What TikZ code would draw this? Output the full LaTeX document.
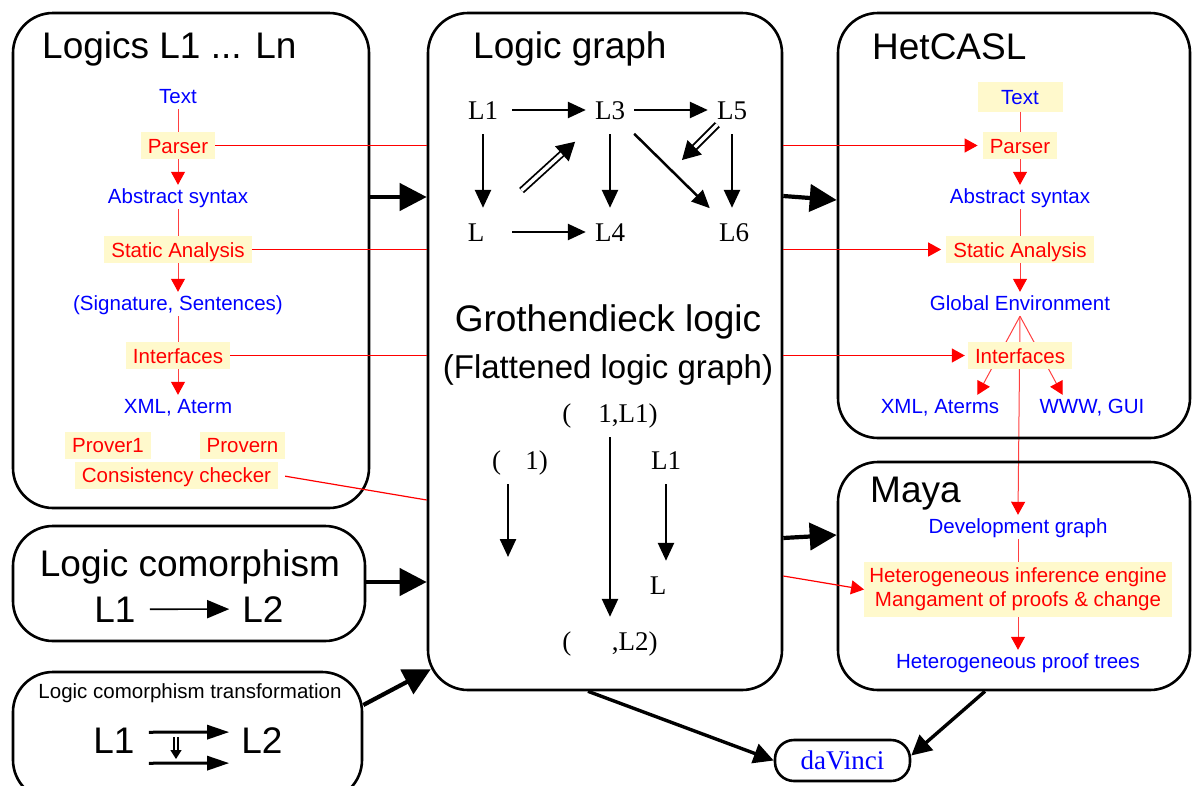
\documentclass[tikz,border=0pt]{standalone}
\usepackage{fontspec}
\setmainfont{Liberation Sans}
\newfontfamily\serifrm{Liberation Serif}
\usetikzlibrary{arrows.meta,positioning,calc,backgrounds}

\definecolor{hlyellow}{RGB}{255,249,204}

\begin{document}
\begin{tikzpicture}[
      x=1pt,y=-1pt,on grid,
      panel/.style = {draw,line width=2.6pt,rounded corners=40pt,inner sep=0pt},
      title/.style = {font=\fontsize{37}{42}\selectfont,inner sep=0pt,anchor=base west},
      item/.style = {font=\fontsize{20.5}{24}\selectfont,text=blue,text height=15pt,text depth=3pt,inner sep=3pt},
      task/.style = {font=\fontsize{20.5}{24}\selectfont,text=red,fill=hlyellow,text height=16pt,text depth=1pt,inner xsep=7pt,inner ysep=5pt},
      lnode/.style = {font=\serifrm\fontsize{27}{30}\selectfont,text height=18pt,text depth=0pt,inner xsep=9pt,inner ysep=15pt,anchor=base},
      bigarrow/.style = {-{Triangle[length=27pt,width=27pt]},line width=4.2pt},
      midarrow/.style = {-{Triangle[length=20pt,width=20pt]},line width=3.4pt},
      garrow/.style = {-{Triangle[length=18pt,width=16pt]},line width=2.5pt},
      dblarrow/.style = {-{Triangle[length=18pt,width=20pt]},double,double distance=3.5pt,line width=1.8pt},
      tarrow/.style = {-{Triangle[length=22pt,width=14pt]},line width=3pt},
      flow/.style = {red!75,line width=1pt},
      flowarrow/.style = {flow,-{Triangle[length=13pt,width=14pt,color=red]}},
      redlink/.style = {color=red,line width=1.2pt},
      redlinkarrow/.style = {redlink,-{Triangle[length=13pt,width=14pt]}}
    ]
  \useasboundingbox (0,0) rectangle (1192,785);

  % the six panels and the viewer
  \node (logics)[panel,minimum width=356pt,minimum height=495pt] at (191,260.5) {};
  \node (lgraph)[panel,minimum width=354pt,minimum height=677pt] at (605,351.5) {};
  \node (hetcasl)[panel,minimum width=352pt,minimum height=425pt] at (1014,225.5) {};
  \node (maya)[panel,minimum width=352pt,minimum height=228pt] at (1014,576) {};
  \node (comorph)[panel,minimum width=352pt,minimum height=115pt] at (189,583.5) {};
  \node (trans)[panel,minimum width=349pt,minimum height=128pt] at (187.5,736) {};
  \node (davinci)[panel,rounded corners=19pt,minimum width=135pt,minimum height=41pt,
    font=\serifrm\fontsize{27}{30}\selectfont,text=blue] at (842.5,760.5) {daVinci};

  \node (logicstitle)[title] at (42,58) {Logics L1 ... Ln};
  \node (graphtitle)[title] at (473,58) {Logic graph};
  \node (hettitle)[title] at (872,59) {HetCASL};
  \node (mayatitle)[title] at (870,502) {Maya};
  \node (groth)[title,anchor=base] at (608,331) {Grothendieck logic};
  \node (flat)[title,anchor=base,font=\fontsize{33}{38}\selectfont] at (608,378) {(Flattened logic graph)};

  % logics column
  \node (ltext)[item] at (178,97) {Text};
  \node (lparser)[task,below=48.5pt of ltext] {Parser};
  \node (labs)[item,below=51.5pt of lparser] {Abstract syntax};
  \node (lstatic)[task,below=52.5pt of labs] {Static Analysis};
  \node (lsig)[item,below=54.5pt of lstatic] {(Signature, Sentences)};
  \node (linter)[task,below=51.5pt of lsig] {Interfaces};
  \node (lxml)[item,below=51.5pt of linter] {XML, Aterm};
  \node (prover1)[task] at (108,445) {Prover1};
  \node (provern)[task] at (242.5,445) {Provern};
  \node (consist)[task] at (176.5,475) {Consistency checker};

  \draw[flow] (ltext) -- (lparser);
  \draw[flowarrow] (lparser) -- (labs);
  \draw[flow] (labs) -- (lstatic);
  \draw[flowarrow] (lstatic) -- (lsig);
  \draw[flow] (lsig) -- (linter);
  \draw[flowarrow] (linter) -- (lxml);

  % HetCASL column
  \node (htext)[task,text=blue,minimum width=85pt,minimum height=30pt] at (1020,96.5) {Text};
  \node (hparser)[task,below=49pt of htext] {Parser};
  \node (habs)[item,below=51.5pt of hparser] {Abstract syntax};
  \node (hstatic)[task,below=52.5pt of habs] {Static Analysis};
  \node (hglobal)[item,below=54.5pt of hstatic] {Global Environment};
  \node (hxml)[item] at (940,407) {XML, Aterms};
  \node (hwww)[item] at (1092,407) {WWW, GUI};

  % Maya column
  \node (devg)[item] at (1018,527) {Development graph};
  \node (hengine)[font=\fontsize{20.5}{24}\selectfont,text=red,fill=hlyellow,align=center,
    inner xsep=5pt,inner ysep=6pt,below=62.5pt of devg]
    {Heterogeneous inference engine\\Mangament of proofs \& change};
  \node (proof)[item,below=72.5pt of hengine] {Heterogeneous proof trees};

  \begin{pgfonlayer}{background}
    \draw[flowarrow] (hglobal.south) -- ($(hxml.north)!0.6!(hxml.north east)$);
    \draw[flowarrow] (hglobal.south) -- ($(hwww.north)!0.53!(hwww.north west)$);
    \draw[flowarrow] (hglobal.south) -- (devg.north);
  \end{pgfonlayer}
  \node (hinter)[task,below=51.5pt of hglobal] {Interfaces};

  \draw[flow] (htext) -- (hparser);
  \draw[flowarrow] (hparser) -- (habs);
  \draw[flow] (habs) -- (hstatic);
  \draw[flowarrow] (hstatic) -- (hglobal);
  \draw[flow] (devg) -- (hengine);
  \draw[flowarrow] (hengine) -- (proof);

  % links through the logic graph
  \draw[redlink] (lparser.east) -- (lparser -| lgraph.west);
  \draw[redlink] (lstatic.east) -- (lstatic -| lgraph.west);
  \draw[redlink] (linter.east) -- (linter -| lgraph.west);
  \draw[redlink,shorten <=7pt] (consist.east) -- (lgraph.west |- 0,500);
  \draw[redlinkarrow,shorten >=5pt] (hparser -| lgraph.east) -- (hparser.west);
  \draw[redlinkarrow,shorten >=5pt] (hstatic -| lgraph.east) -- (hstatic.west);
  \draw[redlinkarrow,shorten >=3pt] (hinter -| lgraph.east) -- (hinter.west);
  \draw[redlinkarrow] (lgraph.east |- 0,576) -- (hengine.west);

  % logic graph
  \node (l1)[lnode] at (483,119) {L1};
  \node (l3)[lnode] at (610,119) {L3};
  \node (l5)[lnode] at (732,119) {L5};
  \node (l)[lnode] at (476,241) {L};
  \node (l4)[lnode] at (610,241) {L4};
  \node (l6)[lnode] at (734,241) {L6};
  \draw[garrow,shorten <=5pt] (l1) -- (l3);
  \draw[garrow] (l3) -- (l5);
  \draw[garrow] (l1) -- (l1 |- l.north);
  \draw[garrow,shorten <=5pt] (l1.east |- l) -- (l4);
  \draw[garrow] (l3) -- (l4);
  \draw[garrow] (l3) -- (l6);
  \draw[garrow] (l5) -- (l5 |- l6.north);
  \draw[dblarrow] ($(l)!0.34!(l3)$) -- ($(l)!0.74!(l3)$);
  \draw[dblarrow] ($(l5)!0.12!(l4)$) -- ($(l5)!0.41!(l4)$);

  % flattened graph
  \node (gs1)[lnode] at (610,422) {(\hspace{1em}1,L1)};
  \node (sig1)[lnode] at (520,469) {(\hspace{0.9em}1)};
  \node (rl1)[lnode] at (666,469) {L1};
  \node (rl)[lnode] at (658,594) {L};
  \node (gs2)[lnode] at (610,650) {(\hspace{1.5em},L2)};
  \coordinate (sigend) at (508,557);
  \draw[garrow] ([xshift=-12pt]sig1.south) -- (sigend);
  \draw[garrow] (gs1) -- (gs2);
  \draw[garrow] (rl1) -- (rl1 |- rl.north);

  % comorphism panels
  \node (cotitle)[title,anchor=base] at (190,576) {Logic comorphism};
  \node (col1)[title,anchor=base] at (115,622) {L1};
  \node (col2)[title,anchor=base] at (263,622) {L2};
  \draw[-{Triangle[length=22pt,width=18pt]},line width=1.6pt,shorten <=14pt,shorten >=13pt] (col1) -- (col2);

  \node (trtitle)[font=\fontsize{20.5}{24}\selectfont,inner sep=0pt,anchor=base] at (190,698) {Logic comorphism transformation};
  \node (trl1)[title,anchor=base] at (114,753) {L1};
  \node (trl2)[title,anchor=base] at (262,753) {L2};
  \draw[tarrow,shorten <=14pt,shorten >=12pt] ([yshift=8pt]trl1.east) -- ([yshift=8pt]trl2.west);
  \draw[tarrow,shorten <=14pt,shorten >=12pt] ([yshift=-23pt]trl1.east) -- ([yshift=-23pt]trl2.west);
  \coordinate (dtop) at (176,737);
  \coordinate (dbot) at (176,759);
  \draw[-{Triangle[length=9pt,width=11pt]},double,double distance=2.5pt,line width=1.3pt] (dtop) -- (dbot);

  % arrows between panels
  \draw[bigarrow] (logics.east |- 0,197) -- (lgraph.west |- 0,197);
  \draw[bigarrow] (comorph.east |- 0,582) -- (lgraph.west |- 0,582);
  \draw[bigarrow] (trans.east |- 0,705) -- ([shift={(4,-22)}]lgraph.south west);
  \draw[bigarrow] (lgraph.east |- 0,196) -- (hetcasl.west |- 0,200);
  \draw[bigarrow] (lgraph.east |- 0,538) -- (maya.west |- 0,535);
  \draw[midarrow] (lgraph.south -| 588,0) -- (davinci.west);
  \draw[midarrow] (maya.south -| 985,0) -- ([yshift=5pt]davinci.east);
\end{tikzpicture}
\end{document}
